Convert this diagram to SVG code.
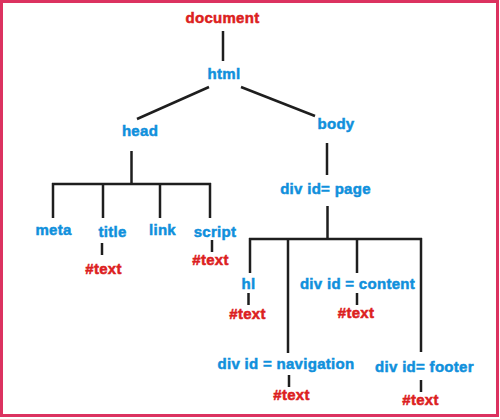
<svg xmlns="http://www.w3.org/2000/svg" width="500" height="419" viewBox="0 0 500 419">
<style>
text{font-family:"Liberation Sans",Arial,sans-serif;font-weight:bold;font-size:15px;text-anchor:middle;letter-spacing:0.3px;stroke-width:0.5px}
.b{fill:#1090dc;stroke:#1090dc}
.r{fill:#dc2020;stroke:#dc2020}
#edges line{stroke:#1e1e1e;stroke-width:2.5;stroke-linecap:butt}
</style>
<rect x="1.5" y="1.5" width="496" height="414" fill="#fff" stroke="#dc3260" stroke-width="3"/>
<g id="edges">
<line x1="223" y1="31" x2="223" y2="61"/>
<line x1="209" y1="87" x2="137" y2="119"/>
<line x1="241" y1="87" x2="315" y2="116"/>
<line x1="131.5" y1="151" x2="131.5" y2="184"/>
<line x1="52" y1="184" x2="211" y2="184"/>
<line x1="53" y1="183" x2="53" y2="218"/>
<line x1="103" y1="183" x2="103" y2="218"/>
<line x1="160" y1="183" x2="160" y2="218"/>
<line x1="210" y1="183" x2="210" y2="218"/>
<line x1="102" y1="243" x2="102" y2="255"/>
<line x1="212" y1="240" x2="212" y2="252"/>
<line x1="327" y1="143" x2="327" y2="175"/>
<line x1="327.5" y1="206" x2="327.5" y2="239"/>
<line x1="249" y1="239" x2="422" y2="239"/>
<line x1="250" y1="238" x2="250" y2="273"/>
<line x1="288" y1="238" x2="288" y2="353"/>
<line x1="357" y1="238" x2="357" y2="273"/>
<line x1="421" y1="238" x2="421" y2="352"/>
<line x1="248.5" y1="293" x2="248.5" y2="305"/>
<line x1="357" y1="293" x2="357" y2="305"/>
<line x1="289" y1="375" x2="289" y2="387"/>
<line x1="421" y1="380" x2="421" y2="392"/>
</g>
<g id="document"><text class="r" x="222.5" y="23">document</text></g>
<g id="html"><text class="b" x="224" y="79">html</text></g>
<g id="head"><text class="b" x="140" y="136">head</text></g>
<g id="body"><text class="b" x="336" y="129">body</text></g>
<g id="meta"><text class="b" x="53.5" y="235">meta</text></g>
<g id="title"><text class="b" x="112.5" y="237">title</text></g>
<g id="title-text"><text class="r" x="103.5" y="274">#text</text></g>
<g id="link"><text class="b" x="162.5" y="235">link</text></g>
<g id="script"><text class="b" x="215" y="237">script</text></g>
<g id="script-text"><text class="r" x="210.5" y="265">#text</text></g>
<g id="page"><text class="b" x="325.5" y="194">div id= page</text></g>
<g id="h1"><text class="b" x="248.5" y="289">hl</text></g>
<g id="h1-text"><text class="r" x="247.5" y="319">#text</text></g>
<g id="navigation"><text class="b" x="286" y="369">div id = navigation</text></g>
<g id="navigation-text"><text class="r" x="291.5" y="400">#text</text></g>
<g id="content"><text class="b" x="357.5" y="289">div id = content</text></g>
<g id="content-text"><text class="r" x="356" y="318">#text</text></g>
<g id="footer"><text class="b" x="424.5" y="372">div id= footer</text></g>
<g id="footer-text"><text class="r" x="420.5" y="405">#text</text></g>
</svg>
